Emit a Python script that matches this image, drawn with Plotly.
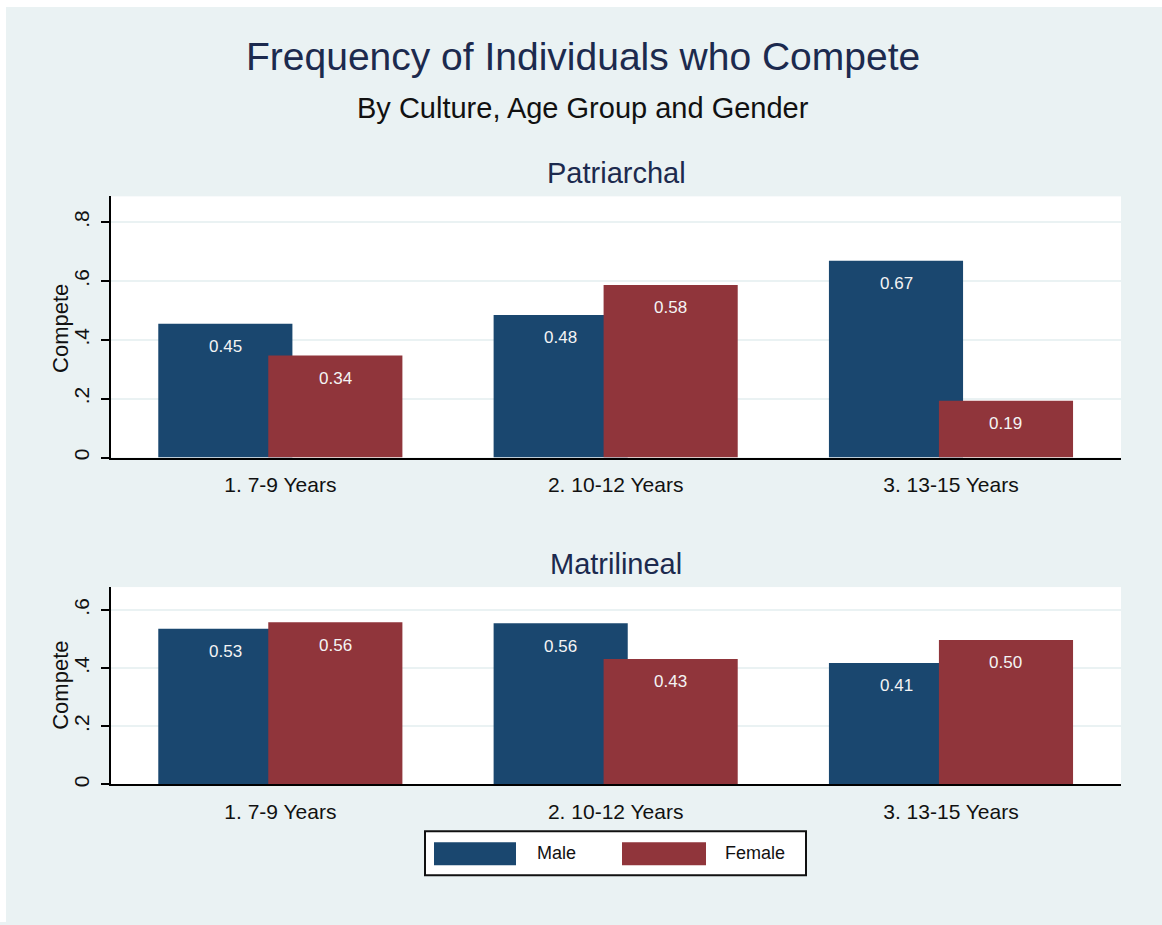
import plotly.graph_objects as go

# ---------------- data ----------------
age_groups = ["1. 7-9 Years", "2. 10-12 Years", "3. 13-15 Years"]
series_names = ["Male", "Female"]
panel_titles = ["Patriarchal", "Matrilineal"]

patriarchal_male = [0.455, 0.485, 0.669]
patriarchal_female = [0.347, 0.587, 0.193]
patriarchal_male_labels = ["0.45", "0.48", "0.67"]
patriarchal_female_labels = ["0.34", "0.58", "0.19"]

matrilineal_male = [0.536, 0.555, 0.418]
matrilineal_female = [0.558, 0.432, 0.497]
matrilineal_male_labels = ["0.53", "0.56", "0.41"]
matrilineal_female_labels = ["0.56", "0.43", "0.50"]

top_ticks = [0, 0.2, 0.4, 0.6, 0.8]
top_ticktext = ["0", ".2", ".4", ".6", ".8"]
bottom_ticks = [0, 0.2, 0.4, 0.6]
bottom_ticktext = ["0", ".2", ".4", ".6"]

title_text = "Frequency of Individuals who Compete"
subtitle_text = "By Culture, Age Group and Gender"
y_title = "Compete"

# ---------------- style ----------------
W, H = 1162, 925
BG = "#EAF2F3"
NAVY = "#1A476F"
MAROON = "#90353B"
FONT = "Liberation Sans, Arial, sans-serif"
TITLE_COLOR = "#1c2a4e"

def px(x):
    return x / W

def py(y):
    return 1 - y / H

BAR_W = 0.4
OFF = {"Male": -0.364, "Female": -0.036}
COLORS = {"Male": NAVY, "Female": MAROON}

panels = [
    (patriarchal_male, patriarchal_female, patriarchal_male_labels, patriarchal_female_labels, "x", "y"),
    (matrilineal_male, matrilineal_female, matrilineal_male_labels, matrilineal_female_labels, "x2", "y2"),
]

fig = go.Figure()
annotations = []
xs = list(range(len(age_groups)))
for pm, pf, lm, lf, xa, ya in panels:
    for name, vals, labs in (("Male", pm, lm), ("Female", pf, lf)):
        fig.add_trace(go.Bar(
            x=xs, y=vals, name=name, width=BAR_W, offset=OFF[name],
            marker=dict(color=COLORS[name], line=dict(width=0)),
            xaxis=xa, yaxis=ya, showlegend=False, hoverinfo="skip",
        ))
        for xi, v, t in zip(xs, vals, labs):
            annotations.append(dict(
                x=xi + OFF[name] + BAR_W / 2, y=v, xref=xa, yref=ya,
                text=t, showarrow=False, yshift=-23,
                font=dict(family=FONT, size=17, color="#f4f4f4"),
            ))

axis_common_x = dict(
    tickmode="array", tickvals=xs, ticktext=age_groups, range=[-0.505, 2.507],
    showline=True, linecolor="black", linewidth=1.5, ticks="", showgrid=False,
    zeroline=False, tickfont=dict(family=FONT, size=21, color="#111111"),
    ticklabelstandoff=8, fixedrange=True,
)
axis_common_y = dict(
    showline=True, linecolor="black", linewidth=1.5, ticks="outside",
    ticklen=8, tickwidth=1.5, tickcolor="black", showgrid=True,
    gridcolor=BG, gridwidth=1.5, zeroline=False, tickangle=-90,
    tickfont=dict(family=FONT, size=21, color="#111111"),
    ticklabelstandoff=4, fixedrange=True,
)

fig.update_layout(
    width=W, height=H, autosize=False,
    margin=dict(l=0, r=0, t=0, b=0, pad=0),
    paper_bgcolor=BG, plot_bgcolor="white",
    barmode="overlay", showlegend=False,
    xaxis=dict(axis_common_x, domain=[px(111), px(1121)], anchor="y"),
    yaxis=dict(axis_common_y, domain=[py(459), py(197)], anchor="x",
               range=[0, 0.888], tickvals=top_ticks, ticktext=top_ticktext),
    xaxis2=dict(axis_common_x, domain=[px(111), px(1121)], anchor="y2"),
    yaxis2=dict(axis_common_y, domain=[py(787), py(589)], anchor="x2",
                range=[0, 0.679], tickvals=bottom_ticks, ticktext=bottom_ticktext),
)

# titles
annotations += [
    dict(x=px(583), y=py(57), xref="paper", yref="paper", text=title_text,
         showarrow=False, xanchor="center", yanchor="middle",
         font=dict(family=FONT, size=39, color=TITLE_COLOR)),
    dict(x=px(583), y=py(108), xref="paper", yref="paper", text=subtitle_text,
         showarrow=False, xanchor="center", yanchor="middle",
         font=dict(family=FONT, size=29, color="#111111")),
    dict(x=px(616), y=py(174), xref="paper", yref="paper", text=panel_titles[0],
         showarrow=False, xanchor="center", yanchor="middle",
         font=dict(family=FONT, size=29, color=TITLE_COLOR)),
    dict(x=px(616), y=py(566), xref="paper", yref="paper", text=panel_titles[1],
         showarrow=False, xanchor="center", yanchor="middle",
         font=dict(family=FONT, size=29, color=TITLE_COLOR)),
    dict(x=px(61), y=py(330), xref="paper", yref="paper", text=y_title,
         showarrow=False, textangle=-90, xanchor="center", yanchor="middle",
         font=dict(family=FONT, size=22, color="#111111")),
    dict(x=px(61), y=py(688), xref="paper", yref="paper", text=y_title,
         showarrow=False, textangle=-90, xanchor="center", yanchor="middle",
         font=dict(family=FONT, size=22, color="#111111")),
]

# legend (drawn manually to mimic the wide swatches)
shapes = [
    dict(type="rect", xref="paper", yref="paper", x0=0, x1=px(6), y0=0, y1=1,
         fillcolor="white", line=dict(width=0), layer="above"),
    dict(type="rect", xref="paper", yref="paper", x0=0, x1=1, y0=py(7), y1=1,
         fillcolor="white", line=dict(width=0), layer="above"),
    dict(type="rect", xref="paper", yref="paper", x0=px(425), x1=px(806),
         y0=py(878), y1=py(834), fillcolor="white",
         line=dict(color="#111111", width=2)),
]
legend_items = [("Male", 434, 516, 535), ("Female", 622, 706, 723)]
for name, sx0, sx1, tx in legend_items:
    shapes.append(dict(type="rect", xref="paper", yref="paper", x0=px(sx0), x1=px(sx1),
                       y0=py(868), y1=py(845), fillcolor=COLORS[name],
                       line=dict(width=0)))
    annotations.append(dict(x=px(tx), y=py(856), xref="paper", yref="paper",
                            text=name, showarrow=False, xanchor="left", yanchor="middle",
                            font=dict(family=FONT, size=18, color="#111111")))

fig.update_layout(annotations=annotations, shapes=shapes)

fig.write_html(
    "out.html",
    config={"displayModeBar": False},
    post_script=("document.body.style.margin='0';"
                 "document.body.style.overflow='hidden';"
                 "document.body.style.background='" + BG + "';"),
)
